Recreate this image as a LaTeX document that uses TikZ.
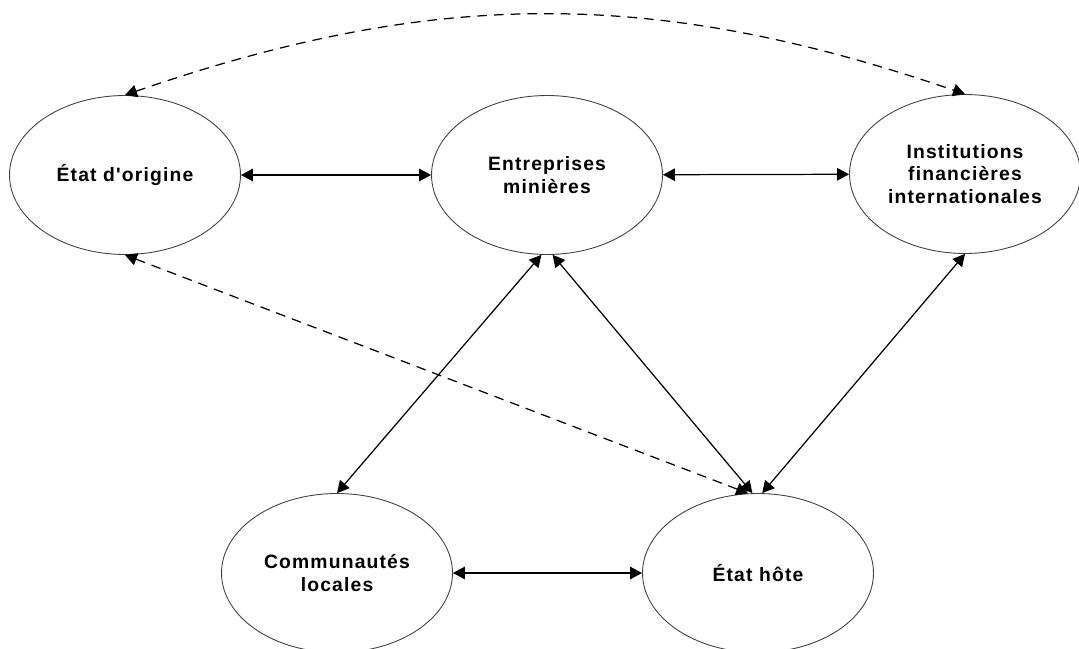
\documentclass[tikz,border=0pt]{standalone}
\usepackage{fontspec}
\newfontfamily\diagfont[LetterSpace=6]{Liberation Sans}
\usetikzlibrary{shapes.geometric,arrows.meta}
\tikzset{
	acteur/.style={ellipse,draw=black!75,line width=0.5pt,minimum width=4.62cm,minimum height=3.18cm,inner sep=0pt,align=center,font=\diagfont\bfseries\fontsize{11}{13}\selectfont},
	lien/.style={line width=0.7pt,{Triangle[length=2.4mm,width=2.5mm]}-{Triangle[length=2.4mm,width=2.5mm]}},
	lienpointille/.style={lien,dash pattern=on 5.5pt off 4pt}
}
\begin{document}
\begin{tikzpicture}[x=0.02cm,y=-0.02cm]
	\useasboundingbox (0,0) rectangle (1079,649);
		\node[acteur] (orig) at (125,175) {État d'origine};
		\node[acteur] (ent) at (547,175) {Entreprises\\minières};
		\node[acteur] (ifi) at (965,174) {Institutions\\financières\\internationales};
		\node[acteur] (comm) at (337,573) {Communautés\\locales};
		\node[acteur] (hote) at (758,573) {État hôte};
			\draw[lien] (orig) -- (ent);
			\draw[lien] (ent) -- (ifi);
			\draw[lien] (comm) -- (hote);
			\draw[lien] (ent.-94) -- (comm.north);
			\draw[lien] (ent.-86) -- (hote.94);
			\draw[lien] (ifi.south) -- (hote.87);
			\draw[lienpointille] (orig.north) to[bend left=19] (ifi.north);
			\draw[lienpointille] (orig.south) -- (hote.97);
	\end{tikzpicture}
\end{document}
